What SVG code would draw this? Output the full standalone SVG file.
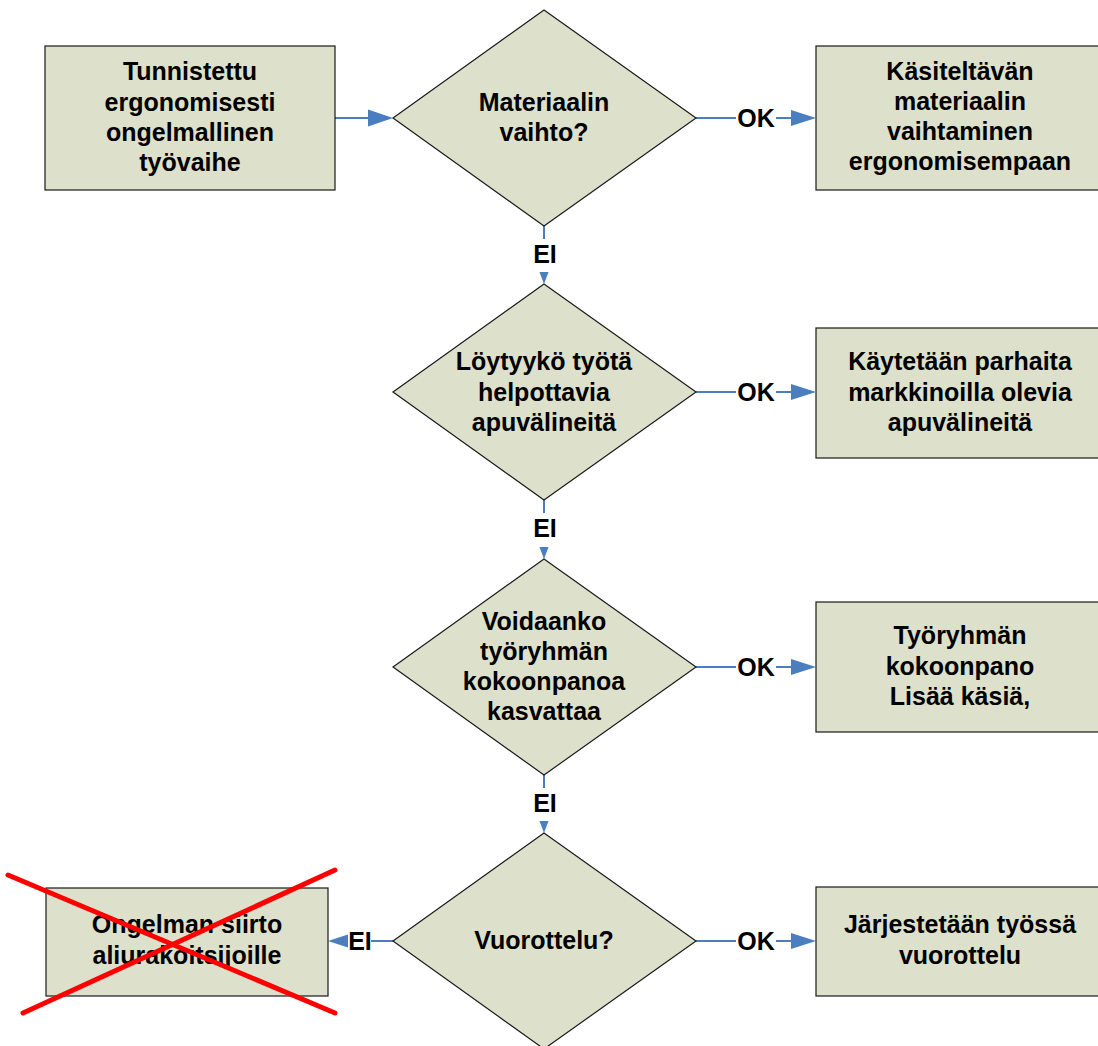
<svg xmlns="http://www.w3.org/2000/svg" width="1098" height="1046" viewBox="0 0 1098 1046">
  <style>
    .shape { fill: #dde0cb; stroke: #1a1a1a; stroke-width: 1.2; }
    .label { font-family: "Liberation Sans", Arial, sans-serif; font-weight: bold; font-size: 25px; fill: #000; text-anchor: middle; }
    .wire { fill: none; stroke: #4a7ebf; stroke-width: 2; }
    .head { fill: #4a7ebf; }
    .cross { stroke: #ff0000; stroke-width: 5; stroke-linecap: round; }
  </style>
  <rect width="1098" height="1046" fill="#ffffff"/>

  <!-- connectors -->
  <g id="connectors">
    <!-- start box to first decision -->
    <line class="wire" x1="335" y1="118" x2="370" y2="118"/>
    <polygon class="head" points="368,109.5 393,118 368,126.5"/>

    <!-- OK branches to the right -->
    <line class="wire" x1="696" y1="118" x2="736" y2="118"/>
    <text class="label" x="756" y="126.5">OK</text>
    <line class="wire" x1="776" y1="118" x2="793" y2="118"/>
    <polygon class="head" points="791,110 816,118 791,126"/>

    <line class="wire" x1="696" y1="392" x2="736" y2="392"/>
    <text class="label" x="756" y="400.5">OK</text>
    <line class="wire" x1="776" y1="392" x2="793" y2="392"/>
    <polygon class="head" points="791,384 816,392 791,400"/>

    <line class="wire" x1="696" y1="667" x2="736" y2="667"/>
    <text class="label" x="756" y="675.5">OK</text>
    <line class="wire" x1="776" y1="667" x2="793" y2="667"/>
    <polygon class="head" points="791,659 816,667 791,675"/>

    <line class="wire" x1="696" y1="941" x2="736" y2="941"/>
    <text class="label" x="756" y="949.5">OK</text>
    <line class="wire" x1="776" y1="941" x2="793" y2="941"/>
    <polygon class="head" points="791,933 816,941 791,949"/>

    <!-- EI branches downward -->
    <line class="wire" x1="544" y1="226" x2="544" y2="239"/>
    <text class="label" x="545" y="263">EI</text>
    <polygon class="head" points="539.5,272 548.5,272 544,284"/>

    <line class="wire" x1="544" y1="500" x2="544" y2="513"/>
    <text class="label" x="545" y="537">EI</text>
    <polygon class="head" points="539.5,547 548.5,547 544,559"/>

    <line class="wire" x1="544" y1="775" x2="544" y2="788"/>
    <text class="label" x="545" y="812">EI</text>
    <polygon class="head" points="539.5,821 548.5,821 544,833"/>

    <!-- EI branch to the left from the last decision -->
    <line class="wire" x1="393" y1="941" x2="371" y2="941"/>
    <text class="label" x="360" y="949.5">EI</text>
    <polygon class="head" points="348,934.5 328,941 348,947.5"/>
  </g>

  <!-- start -->
  <g id="start">
    <rect class="shape" x="45" y="46" width="290" height="144"/>
    <text class="label" x="190" y="80">Tunnistettu</text>
    <text class="label" x="190" y="111">ergonomisesti</text>
    <text class="label" x="190" y="141">ongelmallinen</text>
    <text class="label" x="190" y="171">työvaihe</text>
  </g>

  <!-- decisions -->
  <g id="decision-material">
    <polygon class="shape" points="544,10 696,118 544,226 393,118"/>
    <text class="label" x="544" y="111">Materiaalin</text>
    <text class="label" x="544" y="141">vaihto?</text>
  </g>

  <g id="decision-tools">
    <polygon class="shape" points="544,284 696,392 544,500 393,392"/>
    <text class="label" x="544" y="370">Löytyykö työtä</text>
    <text class="label" x="544" y="401">helpottavia</text>
    <text class="label" x="544" y="431">apuvälineitä</text>
  </g>

  <g id="decision-team">
    <polygon class="shape" points="544,559 696,667 544,775 393,667"/>
    <text class="label" x="544" y="630">Voidaanko</text>
    <text class="label" x="544" y="660">työryhmän</text>
    <text class="label" x="544" y="690">kokoonpanoa</text>
    <text class="label" x="544" y="720">kasvattaa</text>
  </g>

  <g id="decision-rotation">
    <polygon class="shape" points="544,833 696,941 544,1049 393,941"/>
    <text class="label" x="544" y="949">Vuorottelu?</text>
  </g>

  <!-- outcomes -->
  <g id="outcome-material">
    <rect class="shape" x="816" y="46" width="289" height="144"/>
    <text class="label" x="960" y="80">Käsiteltävän</text>
    <text class="label" x="960" y="110">materiaalin</text>
    <text class="label" x="960" y="140">vaihtaminen</text>
    <text class="label" x="960" y="170">ergonomisempaan</text>
  </g>

  <g id="outcome-tools">
    <rect class="shape" x="816" y="328" width="289" height="130"/>
    <text class="label" x="960" y="370">Käytetään parhaita</text>
    <text class="label" x="960" y="401">markkinoilla olevia</text>
    <text class="label" x="960" y="431">apuvälineitä</text>
  </g>

  <g id="outcome-team">
    <rect class="shape" x="816" y="602" width="289" height="130"/>
    <text class="label" x="960" y="644">Työryhmän</text>
    <text class="label" x="960" y="675">kokoonpano</text>
    <text class="label" x="960" y="705">Lisää käsiä,</text>
  </g>

  <g id="outcome-rotation">
    <rect class="shape" x="816" y="887" width="289" height="109"/>
    <text class="label" x="960" y="933">Järjestetään työssä</text>
    <text class="label" x="960" y="964">vuorottelu</text>
  </g>

  <!-- rejected option, crossed out -->
  <g id="outcome-subcontract">
    <rect class="shape" x="46" y="888" width="282" height="108"/>
    <text class="label" x="187" y="933">Ongelman siirto</text>
    <text class="label" x="187" y="964">aliurakoitsijoille</text>
    <line class="cross" x1="8" y1="875" x2="335" y2="1013"/>
    <line class="cross" x1="23" y1="1013" x2="335" y2="870"/>
  </g>
</svg>
